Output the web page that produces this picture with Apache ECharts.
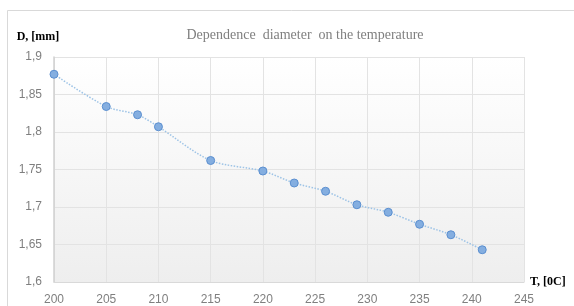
<!DOCTYPE html>
<html>
<head>
<meta charset="utf-8">
<script src="https://cdn.jsdelivr.net/npm/echarts@6/dist/echarts.min.js"></script>
<style>
  html, body { margin: 0; padding: 0; background: #fff; overflow: hidden; }
  #chart { width: 574px; height: 306px; }
</style>
</head>
<body>
<div id="chart"></div>
<script>
// temperature, °C
const temps = [200, 205, 208, 210, 215, 220, 223, 226, 229, 232, 235, 238, 241];
// diameter, mm
const diameters = [1.877, 1.834, 1.823, 1.807, 1.762, 1.748, 1.732, 1.721, 1.703, 1.693, 1.677, 1.663, 1.643];

const serif = '"Liberation Serif", "DejaVu Serif", serif';
const sans = '"Liberation Sans Narrow", "Liberation Sans", sans-serif';

document.addEventListener('DOMContentLoaded', () => {
    const chart = echarts.init(document.getElementById('chart'), null, { width: 574, height: 306 });

    const option = {
        backgroundColor: '#fff',
        animation: false,
        title: {
            text: 'Dependence  diameter  on the temperature',
            left: 300,
            top: 23,
            textAlign: 'center',
            textStyle: { fontFamily: serif, fontSize: 14, fontWeight: 'normal', color: '#7f7f7f' }
        },
        graphic: [{
            type: 'rect',
            shape: { x: 7.5, y: 10.5, width: 600, height: 400 },
            style: { fill: 'none', stroke: '#d9d9d9', lineWidth: 1 },
            silent: true
        }],
        grid: {
            left: 54, right: 50, top: 57, bottom: 21,
            show: true,
            borderWidth: 0,
            backgroundColor: new echarts.graphic.LinearGradient(0, 0, 0, 1, [
                { offset: 0, color: '#ffffff' },
                { offset: 1, color: '#eeeeee' }
            ])
        },
        xAxis: {
            type: 'value',
            min: 200, max: 245, interval: 5,
            name: 'T, [0C]',
            nameLocation: 'end',
            nameGap: 6,
            nameTextStyle: { fontFamily: serif, fontSize: 12, fontWeight: 'bold', color: '#000', verticalAlign: 'middle' },
            axisLine: { show: true, lineStyle: { color: '#d9d9d9' } },
            axisTick: { show: false },
            splitLine: { show: true, lineStyle: { color: '#e3e3e3' } },
            axisLabel: { fontFamily: sans, fontSize: 12, color: '#7f7f7f', margin: 12 }
        },
        yAxis: {
            type: 'value',
            min: 1.6, max: 1.9, interval: 0.05,
            name: 'D, [mm]',
            nameLocation: 'end',
            nameGap: 14,
            nameTextStyle: { fontFamily: serif, fontSize: 12, fontWeight: 'bold', color: '#000', align: 'center', padding: [0, 0, 0, -32] },
            axisLine: { show: true, lineStyle: { color: '#d0d0d0', width: 1.5 } },
            axisTick: { show: false },
            splitLine: { show: true, lineStyle: { color: '#e3e3e3' } },
            axisLabel: {
                fontFamily: sans, fontSize: 12, color: '#7f7f7f', margin: 12,
                formatter: v => String(+v.toFixed(2)).replace('.', ',')
            }
        },
        series: [{
            type: 'line',
            data: temps.map((t, i) => [t, diameters[i]]),
            smooth: 0.3,
            symbol: 'circle',
            symbolSize: 8,
            lineStyle: { color: '#9dc3e6', width: 1.5, type: 'dotted' },
            itemStyle: { color: '#84aee0', borderColor: '#5b8fd0', borderWidth: 1 }
        }]
    };

    chart.setOption(option);
});
</script>
</body>
</html>
